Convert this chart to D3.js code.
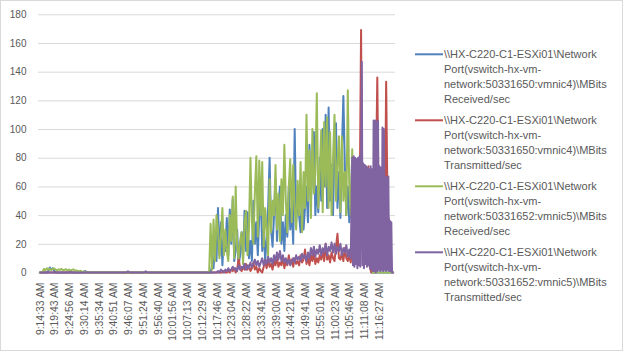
<!DOCTYPE html>
<html>
<head>
<meta charset="utf-8">
<script src="https://cdn.jsdelivr.net/npm/d3@7"></script>
<style>
    body { margin: 0; background: #fff; }
    text { font-family: "Liberation Sans", Arial, sans-serif; fill: #595959; }
</style>
</head>
<body>
<div id="chart_div"></div>
<script>
// one tick label every 10 samples
const tickLabels = ["9:14:33 AM", "9:19:43 AM", "9:24:56 AM", "9:30:14 AM", "9:35:34 AM", "9:40:51 AM",
    "9:46:07 AM", "9:51:24 AM", "9:56:40 AM", "10:01:56 AM", "10:07:13 AM", "10:12:29 AM",
    "10:17:46 AM", "10:23:04 AM", "10:28:22 AM", "10:33:41 AM", "10:39:00 AM", "10:44:21 AM",
    "10:49:41 AM", "10:55:01 AM", "11:00:23 AM", "11:05:46 AM", "11:11:08 AM", "11:16:27 AM"];
const yTicks = [0, 20, 40, 60, 80, 100, 120, 140, 160, 180];

const seriesNames = [
    ["\\\\HX-C220-C1-ESXi01\\Network", "Port(vswitch-hx-vm-", "network:50331650:vmnic4)\\MBits", "Received/sec"],
    ["\\\\HX-C220-C1-ESXi01\\Network", "Port(vswitch-hx-vm-", "network:50331650:vmnic4)\\MBits", "Transmitted/sec"],
    ["\\\\HX-C220-C1-ESXi01\\Network", "Port(vswitch-hx-vm-", "network:50331652:vmnic5)\\MBits", "Received/sec"],
    ["\\\\HX-C220-C1-ESXi01\\Network", "Port(vswitch-hx-vm-", "network:50331652:vmnic5)\\MBits", "Transmitted/sec"]
];
const colors = ["#4f81bd", "#c0504d", "#9bbb59", "#8064a2"];

// quiet stretch (samples 0-115), only the points where something changes: [sample, value]
const quietBlue = [[0, 0], [5, 0], [6, 1], [7, 3.5], [8, 2], [9, 3], [10, 1], [11, 0], [20, 0], [21, 1], [22, 0],
    [30, 0], [31, 1], [32, 0], [115, 0]];
const quietRed = [[0, 0], [115, 0]];
const quietGreen = [[0, 0], [2, 0], [3, 2.5], [4, 1.5], [5, 3], [6, 2], [7, 2.6], [8, 1.8], [9, 2.4], [10, 2.8],
    [11, 2], [12, 1.5], [13, 2.2], [14, 1.8], [15, 2.5], [16, 1.6], [17, 1.9], [18, 2.3], [19, 1.5], [20, 2],
    [21, 1.4], [22, 1.8], [23, 2.2], [24, 1.2], [25, 1.5], [26, 1], [27, 0.8], [28, 1.2], [29, 0.3], [30, 0.8],
    [31, 0], [115, 0]];
const quietPurple = [[0, 0], [59, 0], [60, 0.8], [61, 0], [71, 0], [72, 0.8], [73, 0], [115, 0]];

// busy stretch, one value per sample from sample 116 on
const activeStart = 116;
const blueActive = [
    0, 5, 3, 20, 8, 45, 12, 35, 5, 25,
    15, 38, 12, 44, 20, 51, 8, 15, 30, 5,
    12, 28, 10, 43, 15, 42, 10, 22, 8, 50,
    20, 35, 12, 40, 57, 15, 30, 8, 25, 45,
    80, 30, 18, 40, 65, 22, 45, 60, 20, 35,
    15, 40, 25, 60, 30, 45, 20, 100, 35, 50,
    40, 28, 55, 30, 45, 60, 35, 89, 50, 75,
    98, 40, 60, 42, 80, 50, 100, 60, 110, 45,
    115, 50, 75, 40, 90, 104, 45, 70, 38, 85,
    123, 74, 40, 60, 35, 45, 81, 40, 60, 38,
    55, 45, 30, 50, 25, 40, 20, 35, 10, 0,
    0, 0, 0, 0, 0, 0, 0, 0, 0, 0,
    0, 0, 0, 0, 0];
const redActive = [
    0, 0, 0, 0, 0, 0, 0, 0, 0, 1,
    0, 0, 1, 0, 2, 1, 3, 0, 2, 10,
    3, 1, 4, 2, 6, 2, 5, 1, 3, 7,
    2, 4, 0, 3, 1, 0, 4, 8, 3, 9,
    4, 6, 2, 8, 5, 10, 4, 7, 5, 11,
    3, 8, 5, 12, 6, 9, 4, 10, 6, 8,
    5, 12, 7, 9, 16, 6, 10, 5, 12, 8,
    14, 6, 10, 7, 12, 9, 15, 8, 20, 9,
    12, 7, 14, 10, 8, 18, 27, 10, 9, 14,
    8, 17, 10, 8, 12, 7, 18, 10, 75, 30,
    78, 40, 169, 15, 74, 20, 60, 74, 3, 0,
    5, 0, 60, 136, 35, 65, 10, 60, 20, 133,
    40, 36, 5, 0, 0];
const greenActive = [
    34, 2, 37, 8, 40, 30, 10, 25, 45, 12,
    30, 15, 8, 40, 22, 53, 10, 60, 18, 10,
    22, 28, 6, 35, 43, 12, 30, 80, 35, 20,
    55, 81, 25, 78, 40, 77, 18, 45, 30, 12,
    65, 28, 50, 40, 75, 30, 55, 22, 65, 40,
    89, 50, 28, 60, 79, 35, 75, 45, 30, 64,
    40, 77, 28, 70, 45, 110, 50, 85, 38, 100,
    55, 70, 125, 45, 70, 99, 42, 105, 60, 108,
    45, 98, 40, 80, 110, 50, 75, 95, 42, 95,
    50, 70, 40, 127, 60, 40, 86, 30, 65, 40,
    55, 64, 41, 55, 35, 50, 30, 45, 36, 14,
    0, 0, 0, 0, 0, 0, 0, 0, 0, 0,
    0, 0, 0, 0, 0];
// samples 116-211
const purpleActive = [
    0, 0, 0, 0, 0, 1, 0, 2, 1, 0,
    2, 1, 3, 1, 2, 4, 2, 3, 1, 5,
    2, 4, 3, 6, 2, 5, 3, 7, 4, 6,
    9, 5, 8, 4, 7, 10, 5, 9, 6, 11,
    7, 10, 6, 12, 8, 14, 9, 15, 8, 12,
    7, 10, 6, 9, 5, 8, 10, 7, 12, 9,
    11, 8, 13, 10, 12, 8, 14, 10, 17, 12,
    18, 11, 16, 13, 19, 12, 17, 14, 20, 12,
    18, 15, 21, 14, 20, 13, 18, 15, 20, 12,
    17, 14, 19, 11, 16, 10];
// the burst at the end is read at half-sample steps: [sample, value]
const purpleTail = [
    [212, 80], [212.5, 5], [213, 81], [213.5, 4], [214, 80], [214.5, 6], [215, 79], [215.5, 3],
    [216, 80], [216.5, 5], [217, 81], [217.5, 4], [218, 80], [218.5, 147], [219, 5], [219.5, 76],
    [220, 3], [220.5, 75], [221, 6], [221.5, 74], [222, 4], [222.5, 73], [223, 5], [223.5, 72],
    [224, 3], [224.5, 74], [225, 2], [225.5, 72], [226, 1], [226.5, 106], [227, 1], [227.5, 106],
    [228, 0], [228.5, 105], [229, 1], [229.5, 106], [230, 2], [230.5, 74], [231, 1], [231.5, 73],
    [232, 2], [232.5, 101], [233, 1], [233.5, 100], [234, 2], [234.5, 67], [235, 1], [235.5, 66],
    [236, 2], [236.5, 67], [237, 1], [237.5, 36], [238, 1], [238.5, 35], [239, 0], [240, 0]];

const series = [
    quietBlue.concat(blueActive.map((v, k) => [activeStart + k, v])),
    quietRed.concat(redActive.map((v, k) => [activeStart + k, v])),
    quietGreen.concat(greenActive.map((v, k) => [activeStart + k, v])),
    quietPurple.concat(purpleActive.map((v, k) => [activeStart + k, v]), purpleTail)
];

const width = 626;
const height = 353;

const svg = d3.select("#chart_div")
    .append("svg")
    .attr("width", width)
    .attr("height", height);

svg.append("rect")
    .attr("x", 0.5)
    .attr("y", 0.5)
    .attr("width", 622)
    .attr("height", 350)
    .attr("fill", "#fff")
    .attr("stroke", "#d9d9d9");

const x = d3.scaleLinear()
    .domain([-1, 241])
    .range([38, 395]);

const y = d3.scaleLinear()
    .domain([0, 180])
    .range([272.5, 14.3]);

const yAxis = (g) => g.append("g")
    .attr("transform", "translate(38,0)")
    .call(d3.axisLeft(y).tickValues(yTicks).tickSize(-(395 - 38)).tickPadding(11.5))
    .call(g => g.select(".domain").remove())
    .call(g => g.selectAll("line").attr("stroke", "#d9d9d9"))
    .call(g => g.selectAll("text").attr("font-size", 10).attr("fill", "#595959"));

const xAxis = (g) => g.append("g")
    .attr("transform", `translate(0,${y(0)})`)
    .call(d3.axisBottom(x).tickValues(tickLabels.map((t, i) => i * 10)).tickFormat((d, i) => tickLabels[i]).tickSize(0))
    .call(g => g.select(".domain").remove())
    .call(g => g.selectAll("text")
        .attr("transform", "rotate(-90)")
        .attr("text-anchor", "end")
        .attr("x", -10)
        .attr("y", 0)
        .attr("dy", "0.35em")
        .attr("font-size", 10.4)
        .attr("fill", "#595959"));

const line = d3.line()
    .x(d => x(d[0]))
    .y(d => y(d[1]));

const lines = (g) => g.append("g")
    .selectAll("path")
    .data(series)
    .enter()
    .append("path")
    .attr("d", line)
    .attr("fill", "none")
    .attr("stroke", (d, i) => colors[i])
    .attr("stroke-width", 2)
    .attr("stroke-linejoin", "round");

const legend = (g) => {
    const item = g.append("g")
        .selectAll("g")
        .data(seriesNames)
        .enter()
        .append("g")
        .attr("transform", (d, i) => `translate(415,${54.3 + i * 66})`);
    item.append("line")
        .attr("x1", 0)
        .attr("x2", 28)
        .attr("stroke", (d, i) => colors[i])
        .attr("stroke-width", 2);
    item.selectAll("text")
        .data(d => d)
        .enter()
        .append("text")
        .attr("x", 29)
        .attr("y", (d, i) => i * 15)
        .attr("dy", "0.35em")
        .attr("font-size", 11)
        .text(d => d);
};

svg.call(yAxis);
svg.call(xAxis);
svg.call(lines);
svg.call(legend);
</script>
</body>
</html>
